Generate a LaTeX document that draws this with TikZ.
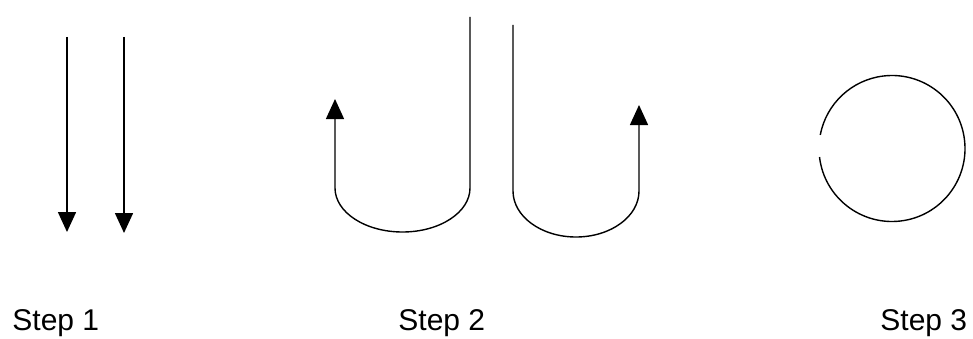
\documentclass[tikz,border=0pt]{standalone}
\usepackage{fontspec}
\setmainfont{Liberation Sans}
\usetikzlibrary{arrows.meta, positioning}

\begin{document}
\begin{tikzpicture}[
    x=0.5pt, y=0.5pt,
    strand/.style={draw, line width=0.8pt, -{Triangle[length=10pt, width=9pt]}},
    loopline/.style={draw, line width=0.7pt},
    steplabel/.style={anchor=base west, inner sep=0pt, font=\fontsize{15}{18}\selectfont}
]
\useasboundingbox (0,0) rectangle (973,338);

% Step 1
\coordinate (s1top) at (67,301);
\coordinate (s1end) at (67,106);
\coordinate (s2top) at (124,301);
\coordinate (s2end) at (124,105);
\draw[strand] (s1top) -- (s1end);
\draw[strand] (s2top) -- (s2end);

% Step 2
\coordinate (ltop) at (470,321);
\coordinate (lbend) at (470,150);
\coordinate (ltip) at (335,239);
\draw[strand, line width=0.7pt] (ltop) -- (lbend)
    arc[start angle=0, end angle=-180, x radius=67.5, y radius=44] -- (ltip);

\coordinate (rtop) at (513,313);
\coordinate (rbend) at (513,147);
\coordinate (rtip) at (639,233);
\draw[strand, line width=0.7pt] (rtop) -- (rbend)
    arc[start angle=180, end angle=360, x radius=63, y radius=46] -- (rtip);

% Step 3
\coordinate (ring) at (892,189.5);
\draw[loopline] (ring) ++(186.7:73) arc[start angle=186.7, end angle=529.3, radius=73];

% Labels
\node[steplabel] (lab1) at (12,8) {Step 1};
\node[steplabel] (lab2) at (398,8) {Step 2};
\node[steplabel] (lab3) at (880,8) {Step 3};

\end{tikzpicture}
\end{document}
